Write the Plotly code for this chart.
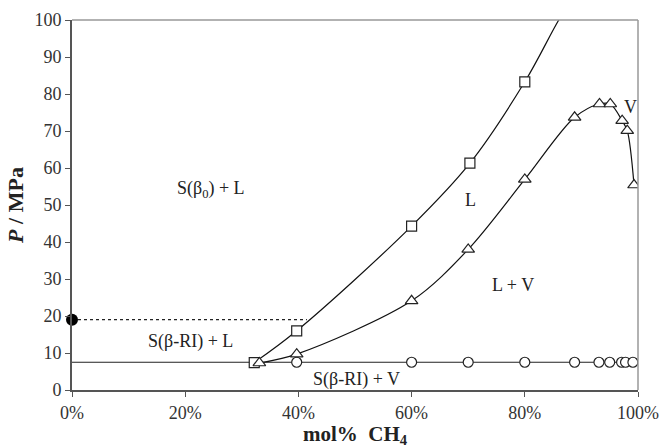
import plotly.graph_objects as go

# Data
sq_x = [32.2, 39.7, 60.0, 70.3, 80.0]
sq_y = [7.4, 16.0, 44.3, 61.3, 83.3]
sq_line_x = [32.2, 39.7, 60.0, 70.3, 80.0, 86.0, 88.5]
sq_line_y = [7.4, 16.0, 44.3, 61.3, 83.3, 100.0, 106.0]

tri_x = [33.1, 39.7, 60.0, 70.0, 80.0, 88.8, 93.2, 95.1, 97.2, 98.1, 99.3]
tri_y = [7.3, 9.7, 24.1, 38.0, 56.9, 73.7, 77.3, 77.3, 72.8, 70.1, 55.4]

circ_x = [39.7, 60.0, 70.0, 80.0, 88.8, 93.1, 95.0, 97.1, 97.8, 99.1]
circ_y = [7.5, 7.5, 7.5, 7.5, 7.5, 7.5, 7.5, 7.5, 7.5, 7.5]

h_line_x = [0, 100]
h_line_y = [7.5, 7.5]

dot_line_x = [0, 41.5]
dot_line_y = [19.0, 19.0]

point_x = [0]
point_y = [19.0]

x_ticks = [0, 20, 40, 60, 80, 100]
x_tick_labels = ["0%", "20%", "40%", "60%", "80%", "100%"]
y_ticks = [0, 10, 20, 30, 40, 50, 60, 70, 80, 90, 100]

labels = [
    ("S(β<sub>0</sub>) + L", 24.5, 54.3),
    ("L", 70.4, 51.3),
    ("V", 98.6, 76.5),
    ("L + V", 78.0, 28.3),
    ("S(β-RI) + L", 20.9, 13.1),
    ("S(β-RI) + V", 50.2, 2.9),
]

FONT = "Liberation Serif, Times New Roman, serif"

fig = go.Figure()
fig.add_trace(go.Scatter(x=h_line_x, y=h_line_y, mode="lines",
                         line=dict(color="#222", width=1.2), showlegend=False))
fig.add_trace(go.Scatter(x=dot_line_x, y=dot_line_y, mode="lines",
                         line=dict(color="#222", width=1.2, dash="dot"), showlegend=False))
fig.add_trace(go.Scatter(x=sq_line_x, y=sq_line_y, mode="lines", line_shape="spline",
                         line=dict(color="#111", width=1.2), showlegend=False))
fig.add_trace(go.Scatter(x=tri_x, y=tri_y, mode="lines", line_shape="spline",
                         line=dict(color="#111", width=1.2, smoothing=0.9), showlegend=False))
fig.add_trace(go.Scatter(x=circ_x, y=circ_y, mode="markers",
                         marker=dict(symbol="circle", size=10, color="white",
                                     line=dict(color="#222", width=1.2)), showlegend=False))
fig.add_trace(go.Scatter(x=sq_x, y=sq_y, mode="markers",
                         marker=dict(symbol="square", size=10, color="white",
                                     line=dict(color="#222", width=1.2)), showlegend=False))
fig.add_trace(go.Scatter(x=tri_x, y=tri_y, mode="markers",
                         marker=dict(symbol="triangle-up", size=11, color="white",
                                     line=dict(color="#222", width=1.2)), showlegend=False))
fig.add_trace(go.Scatter(x=point_x, y=point_y, mode="markers", cliponaxis=False,
                         marker=dict(symbol="circle", size=12, color="black"), showlegend=False))

for txt, x, y in labels:
    fig.add_annotation(x=x, y=y, text=txt, showarrow=False,
                       font=dict(family=FONT, size=18, color="#222"))

# top and right thin borders
fig.add_shape(type="line", xref="paper", yref="paper", x0=0, x1=1, y0=1, y1=1,
              line=dict(color="#999", width=1.5))
fig.add_shape(type="line", xref="paper", yref="paper", x0=1, x1=1, y0=0, y1=1,
              line=dict(color="#999", width=1.5))

fig.update_layout(
    width=663, height=448, autosize=False,
    margin=dict(l=72, r=25, t=20, b=58),
    plot_bgcolor="white", paper_bgcolor="white",
    font=dict(family=FONT, size=18, color="#333"),
    xaxis=dict(range=[0, 100], tickvals=x_ticks, ticktext=x_tick_labels, automargin=False,
               showgrid=False, zeroline=False, showline=True, linecolor="#555", linewidth=2,
               ticks="outside", ticklen=5, tickcolor="#555",
               title=dict(text="<b>mol%  CH<sub>4</sub></b>", font=dict(size=21, color="#222"),
                          standoff=4)),
    yaxis=dict(range=[0, 100], tickvals=y_ticks, automargin=False,
               showgrid=False, zeroline=False, showline=True, linecolor="#555", linewidth=2,
               ticks="outside", ticklen=5, tickcolor="#555",
               title=dict(text="<b><i>P</i> / MPa</b>", font=dict(size=22, color="#222"),
                          standoff=5)),
)

fig.write_html("out.html", config={"displayModeBar": False},
               post_script="document.body.style.margin='0';document.body.style.overflow='hidden';")
